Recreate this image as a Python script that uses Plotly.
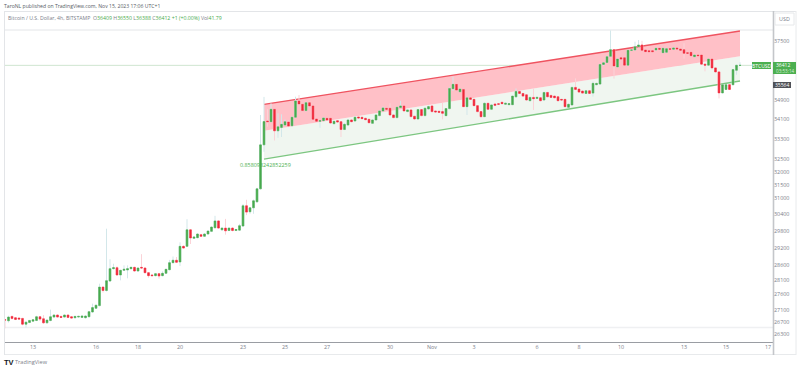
import math
import pandas as pd
import plotly.graph_objects as go

opens = [
26770,26737,26880,26836,26825,26814,26627,26682,26726,26748,
26869,26803,26671,26748,26858,26924,26880,26858,26924,26869,
26836,26858,26847,26836,26869,27023,27144,27232,27849,27735,
28054,28476,28510,28260,28419,28431,28476,28522,28396,28522,
28499,28339,28260,28237,28305,28237,28317,28442,28684,28767,
28707,29255,29255,29846,29540,29564,29671,29612,29695,29790,
29920,30169,29846,29908,29820,29908,29820,29834,29983,30727,
30504,30650,30873,31362,33074,34043,34015,34529,33640,33779,
33876,34001,33848,34196,34877,34738,34474,34807,34668,34126,
34029,34057,34154,34154,33932,34057,34015,33695,33876,34085,
34043,34210,34196,34154,34112,33945,34085,34265,34460,34571,
34571,34293,34182,34599,34668,34432,34502,34238,34126,34515,
34265,34543,34667,34458,34444,34431,34264,34556,35397,35584,
35267,35368,34639,35008,34945,34681,34431,34222,34778,34528,
34750,34764,34820,34736,34722,34722,35051,35282,35195,35138,
34889,35028,34986,35014,34917,35238,35112,35084,35056,34945,
34945,34611,34709,35454,35382,35296,35195,35310,35210,35570,
35597,36450,36540,36810,37110,36342,36750,36750,36420,37080,
37095,37245,37320,37095,37065,37065,37095,37170,36975,36990,
37155,37125,37185,37140,37110,36975,36990,36795,36870,36870,
36465,36420,36690,36300,36125,35220,35365,35570,35570,36195,36409]
closes = [
26760,26858,26814,26781,26792,26627,26693,26748,26770,26869,
26792,26671,26759,26869,26924,26858,26847,26924,26847,26825,
26880,26880,26891,26891,27034,27166,27243,27849,27735,28066,
28476,28510,28260,28419,28453,28476,28522,28396,28499,28499,
28339,28237,28237,28305,28225,28317,28453,28684,28767,28695,
29255,29195,29846,29552,29588,29695,29612,29695,29800,29944,
30169,29908,29908,29809,29908,29820,29858,29995,30727,30491,
30652,30912,31362,33074,34020,34015,34529,33640,33806,33904,
34015,33834,34196,34877,34752,34474,34807,34668,34112,34029,
34057,34168,34085,33959,34029,34001,33695,33904,34085,34015,
34196,34168,34140,34098,33973,34085,34293,34460,34585,34529,
34293,34182,34613,34668,34460,34502,34224,34126,34515,34265,
34571,34640,34431,34417,34403,34361,34556,35411,35584,35339,
35382,34639,35008,34945,34681,34431,34222,34778,34528,34709,
34695,34736,34764,34778,34764,35082,35282,35195,35082,34917,
35028,34973,35028,34889,35238,35056,35028,35014,34889,34917,
34639,34736,35454,35368,35253,35210,35310,35195,35627,35625,
36450,36525,36795,37110,36385,36690,36690,36420,37080,37095,
37245,37320,37080,37020,37020,37020,37170,37125,37170,37155,
37125,37185,37140,37080,36945,36945,36840,36870,36840,36465,
36420,36690,36300,36125,35220,35570,35570,35365,36225,36415,36412]
highs = [
26770,26900,26895,26850,26840,26830,26700,26760,26790,26900,
26885,26920,26770,27100,26950,26940,26890,26940,26935,26880,
26895,26895,26905,26910,27060,27298,27270,27963,27870,29886,
28803,28647,28556,28435,28590,28590,28540,28540,28510,28980,
28520,28350,28270,28330,28330,28385,28470,28780,28898,28880,
29398,29290,30231,29860,29620,29720,29700,29720,29820,29970,
30355,30190,29930,30243,29930,29935,29875,30060,30790,30950,
30680,30960,31400,34290,35050,34530,34780,34560,34360,34320,
34100,34060,34220,35057,35127,34760,34840,34830,34690,34150,
34070,34200,34180,34170,34050,34075,34040,33960,34100,34110,
34240,34230,34210,34170,34130,34110,34320,34480,34640,34600,
34780,34320,34630,34880,34690,34520,34515,34250,34540,34530,
34620,34680,34700,34470,34460,34800,34580,35460,35915,35610,
35410,35400,35040,35030,34960,34700,34450,34820,34800,34740,
34780,34780,34850,34800,34790,35100,35410,35300,35210,35160,
35050,35411,35040,35040,35260,35260,35130,35100,35070,34960,
34960,34770,35480,35843,35400,35310,35340,35330,35710,35660,
36480,36560,36830,37980,37130,36730,36770,36770,37100,37110,
37470,37545,37510,37120,37090,37085,37190,37190,37190,37175,
37170,37200,37200,37160,37400,36990,37010,36900,36880,36890,
36480,36710,36710,36320,36150,35590,35600,35590,36260,36440,36550]
lows = [
26495,26680,26780,26760,26770,26590,26517,26660,26710,26725,
26730,26640,26650,26720,26840,26835,26825,26840,26825,26800,
26815,26840,26825,26815,26850,27000,27120,27210,27667,27700,
28030,28450,28240,28077,28395,28146,28450,28375,28375,28470,
28315,28168,28210,28215,28134,28215,28295,28420,28660,28675,
28565,29170,29230,29338,29520,29545,29590,29590,29670,29765,
29900,29885,29820,29671,29800,29790,29800,29810,29960,30380,
30430,30430,30850,31340,32800,33807,33990,33250,33360,33390,
33850,33790,33820,34170,34720,34450,34440,34640,34080,34000,
33765,34030,34085,33930,33900,33980,33390,33670,33850,33990,
34020,34145,34120,34075,33950,33920,34060,34240,34440,34505,
34265,34160,34160,34575,34440,34410,34200,34100,34100,34240,
34240,34520,34410,34390,34380,34111,34240,34530,35300,35320,
35245,34620,34291,34920,34660,34410,34170,34200,34500,34505,
34670,34710,34740,34710,34700,34700,35030,35170,35060,34890,
34865,34500,34960,34865,34895,35030,35005,34990,34865,34890,
34610,34590,34690,35340,35230,35185,35170,35170,35060,35550,
35570,36400,36520,36790,35830,36320,36670,36395,36400,37060,
37070,37220,37050,37000,37000,37000,37070,37100,36950,36965,
37100,37100,37120,37060,36710,36920,36815,36770,36815,36440,
36150,36395,36230,36100,34985,35195,35345,35345,35545,36000,36388]

first_bar = "2023-10-11 16:00"
channel_x = ["2023-10-24_00:00", "2023-11-15_16:00"]
channel_upper = [34737, 37956]
channel_mid = [33645, 36813]
channel_lower = [32513, 35730]

y_ticks = [37500, 34900, 34100, 33300, 32500, 32000, 31500, 31000,
           30400, 29800, 29200, 28600, 28100, 27600, 27100, 26700, 26300]
x_ticks = ["2023-10-13", "2023-10-16", "2023-10-18", "2023-10-20", "2023-10-23", "2023-10-25",
           "2023-10-27", "2023-10-30", "2023-11-01", "2023-11-03", "2023-11-06", "2023-11-08",
           "2023-11-10", "2023-11-13", "2023-11-15", "2023-11-17"]
x_labels = ["13", "16", "18", "20", "23", "25", "27", "30", "Nov", "3", "6", "8", "10", "13", "15", "17"]

last_price = 36412
countdown = "03:53:14"
line_price = 35564

GREEN, RED = "#48ab4d", "#f0293a"
TAG = "#4caf50"
GREEN_WICK, RED_WICK = "#d3e7ea", "#fbd3d8"
FONT = "Open Sans"
TXT = "#7b808a"

dates = pd.date_range(first_bar, periods=len(opens), freq="4h")
body_hi = [max(o, c) for o, c in zip(opens, closes)]
body_lo = [min(o, c) for o, c in zip(opens, closes)]

fig = go.Figure()
fig.add_trace(go.Candlestick(
    x=dates, open=opens, high=highs, low=lows, close=closes, whiskerwidth=0,
    increasing=dict(line=dict(color=GREEN_WICK, width=1), fillcolor=GREEN_WICK),
    decreasing=dict(line=dict(color=RED_WICK, width=1), fillcolor=RED_WICK)))
fig.add_trace(go.Candlestick(
    x=dates, open=opens, high=body_hi, low=body_lo, close=closes, whiskerwidth=0,
    increasing=dict(line=dict(color=GREEN, width=0.5), fillcolor=GREEN),
    decreasing=dict(line=dict(color=RED, width=0.5), fillcolor=RED)))

PL, PR, PT, PB = 4, 773, 11, 342
def px(v):
    return (v - PL) / (PR - PL)
def py(v):
    return (PB - v) / (PB - PT)

def rect(x0, y0, x1, y1, fill="rgba(0,0,0,0)", line=None, width=1):
    return dict(type="rect", xref="paper", yref="paper", x0=px(x0), x1=px(x1), y0=py(y0), y1=py(y1),
                fillcolor=fill, line=dict(color=line, width=width if line else 0), layer="above")

def hline(y, x0, x1, color, width=1):
    return dict(type="line", xref="paper", yref="paper", x0=px(x0), x1=px(x1), y0=py(y), y1=py(y),
                line=dict(color=color, width=width), layer="below")

def band(lo, hi, fill):
    a, b = channel_x
    return dict(type="path", xref="x", yref="y", layer="below", fillcolor=fill, line=dict(width=0),
                path=f"M {a},{lo[0]} L {b},{lo[1]} L {b},{hi[1]} L {a},{hi[0]} Z")

def edge(vals, color):
    a, b = channel_x
    return dict(type="line", xref="x", yref="y", layer="below", x0=a.replace("_", " "), x1=b.replace("_", " "),
                y0=vals[0], y1=vals[1], line=dict(color=color, width=1.3))

shapes = [
    hline(30, PL, PR, "#e3e5e8"),
    hline(327.5, PL, PR, "#eff0f2", 1.5),
    hline(354.5, PL, 796, "#e8eaec"),
    hline(11.5, PL, 796, "#e3e5e8"),
    dict(type="line", xref="paper", yref="paper", x0=px(4.5), x1=px(4.5), y0=py(11), y1=py(355),
         line=dict(color="#e3e5e8", width=1)),
    dict(type="line", xref="paper", yref="paper", x0=px(796), x1=px(796), y0=py(11), y1=py(355),
         line=dict(color="#e8eaec", width=1)),
    dict(type="line", xref="paper", yref="paper", x0=px(773.5), x1=px(773.5), y0=py(11), y1=py(355),
         line=dict(color="#c4c6ca", width=1.6)),
    band(channel_lower, channel_mid, "#f0f6f0"),
    band(channel_mid, channel_upper, "#ffc0c7"),
    edge(channel_lower, "#7cc680"),
    edge(channel_upper, "#ef5360"),
    dict(type="line", xref="paper", yref="y", x0=0, x1=px(752), y0=last_price, y1=last_price,
         line=dict(color="#cfe6d0", width=1), layer="below"),
    rect(775, 13, 794, 25, "#ffffff", "#e6e8ea"),
    rect(752, 62, 771, 69, TAG),
    rect(773, 62, 796, 74, TAG),
    rect(773, 82, 791, 88, "#4f5157"),
]

def label(x, y, text, size=5.4, color=TXT, anchor="left", family=FONT):
    return dict(xref="paper", yref="paper", x=px(x), y=py(y), text=text, showarrow=False,
                xanchor=anchor, yanchor="middle", font=dict(size=size, color=color, family=family),
                borderpad=0, borderwidth=0)

def g(s):
    return f'<span style="color:{GREEN}">{s}</span>'

annotations = [
    label(4, 6, "TaroNL published on TradingView.com, Nov 15, 2023 17:06 UTC+1", size=5.1, color="#555a63"),
    label(8, 18, "Bitcoin / U.S. Dollar, 4h, BITSTAMP  O" + g("36409") + " H" + g("36550") + " L" + g("36388")
          + " C" + g("36412") + " " + g("+1 (+0.00%)") + " Vol" + g("41.79"), size=5.2),
    label(240, 165, "0.858098242852259", color="#4caf50"),
    label(784.5, 19, "USD", anchor="center"),
    label(761.5, 65.5, "BTCUSD", size=5, color="#ffffff", anchor="center"),
    label(776, 64.8, str(last_price), size=5, color="#ffffff"),
    label(776, 71.3, countdown, size=4.6, color="#d8f0d9"),
    label(775, 85, str(line_price), size=5, color="#ffffff"),
    label(4, 362, "<b>TV</b>", size=7.5, color="#131722", family="Liberation Sans"),
    label(15, 362, "TradingView", size=5.6, color="#7b808a"),
]

fig.update_layout(
    width=800, height=370, autosize=False,
    margin=dict(l=PL, r=800 - PR, t=PT, b=370 - PB, pad=0),
    paper_bgcolor="#ffffff", plot_bgcolor="#ffffff",
    showlegend=False, boxgap=0.28, shapes=shapes, annotations=annotations,
    xaxis=dict(type="date", range=["2023-10-11 14:51", "2023-11-17 05:43"], rangeslider=dict(visible=False),
               tickmode="array", tickvals=x_ticks, ticktext=x_labels, ticks="", showgrid=False, zeroline=False,
               showline=True, linecolor="#9a9da3", linewidth=1, tickangle=0,
               tickfont=dict(size=5.4, color=TXT, family=FONT)),
    yaxis=dict(type="log", range=[math.log10(26060), math.log10(38885)], side="right",
               tickmode="array", tickvals=y_ticks, ticktext=[str(v) for v in y_ticks], ticks="",
               showgrid=False, zeroline=False, showline=False,
               tickfont=dict(size=5.4, color=TXT, family=FONT)),
)

fig.write_html("out.html", config=dict(displayModeBar=False),
               post_script="document.body.style.margin='0';document.documentElement.style.overflow='hidden';")
